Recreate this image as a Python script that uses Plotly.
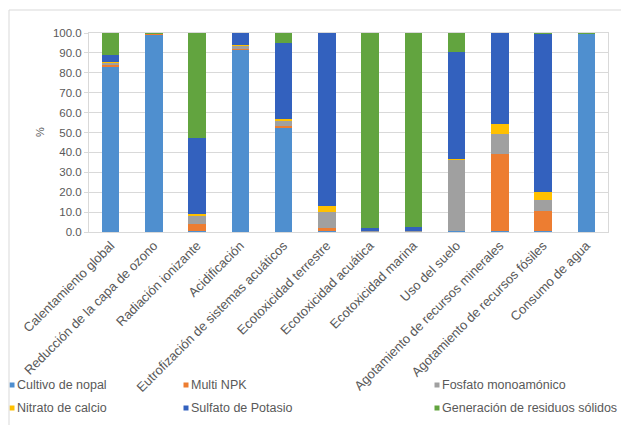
import plotly.graph_objects as go

categories = [
    "Calentamiento global",
    "Reducción de la capa de ozono",
    "Radiación ionizante",
    "Acidificación",
    "Eutrofización de sistemas acuáticos",
    "Ecotoxicidad terrestre",
    "Ecotoxicidad acuática",
    "Ecotoxicidad marina",
    "Uso del suelo",
    "Agotamiento de recursos minerales",
    "Agotamiento de recursos fósiles",
    "Consumo de agua",
]

cultivo_nopal = [83.0, 99.2, 0.5, 91.5, 52.5, 0.5, 0.3, 0.3, 0.5, 0.3, 0.5, 99.5]
multi_npk = [1.0, 0.3, 3.5, 0.5, 1.0, 1.5, 0.1, 0.1, 0.0, 39.0, 10.0, 0.0]
fosfato_monoamonico = [1.0, 0.2, 4.5, 1.5, 2.5, 8.0, 0.2, 0.2, 36.0, 10.0, 5.5, 0.0]
nitrato_calcio = [0.5, 0.1, 0.5, 0.3, 1.0, 3.0, 0.1, 0.1, 0.3, 5.0, 4.0, 0.0]
sulfato_potasio = [3.5, 0.1, 38.0, 6.2, 38.0, 87.0, 1.3, 1.8, 53.5, 45.7, 79.5, 0.2]
residuos_solidos = [11.0, 0.1, 53.0, 0.0, 5.0, 0.0, 98.0, 97.5, 9.7, 0.0, 0.5, 0.3]

series_names = [
    "Cultivo de nopal",
    "Multi NPK",
    "Fosfato monoamónico",
    "Nitrato de calcio",
    "Sulfato de Potasio",
    "Generación de residuos sólidos",
]
series_values = [
    cultivo_nopal,
    multi_npk,
    fosfato_monoamonico,
    nitrato_calcio,
    sulfato_potasio,
    residuos_solidos,
]
series_colors = ["#4f8fcf", "#ED7D31", "#A0A0A0", "#FFC000", "#3361be", "#62a43f"]

y_ticks = [0, 10, 20, 30, 40, 50, 60, 70, 80, 90, 100]

FONT = "Arial, 'Liberation Sans', sans-serif"
TEXT = "#595959"
GRID = "#d9d9d9"

W, H = 621, 425
L, R, T, B = 89, 13, 33, 193
PW, PH = W - L - R, H - T - B


def px_x(x):
    return (x - L) / PW


def px_y(y):
    return (H - B - y) / PH


fig = go.Figure()
for name, vals, color in zip(series_names, series_values, series_colors):
    fig.add_trace(go.Bar(
        name=name, x=categories, y=vals, marker_color=color,
        marker_line_width=0, showlegend=False,
    ))

# legend laid out in three columns, two rows
legend_col_x = [12, 186, 437]
legend_row_y = [385, 408]
shapes = []
annotations = []
for i, (name, color) in enumerate(zip(series_names, series_colors)):
    cx = legend_col_x[i % 3]
    cy = legend_row_y[i // 3]
    shapes.append(dict(
        type="rect", xref="paper", yref="paper",
        x0=px_x(cx - 2.5), x1=px_x(cx + 2.5),
        y0=px_y(cy + 2.5), y1=px_y(cy - 2.5),
        fillcolor=color, line_width=0,
    ))
    annotations.append(dict(
        xref="paper", yref="paper", x=px_x(cx + 3), y=px_y(cy),
        xanchor="left", yanchor="middle", text=name, showarrow=False,
        font=dict(family=FONT, size=12.5, color=TEXT),
    ))

# chart frame (top and left edges)
shapes.append(dict(type="line", xref="paper", yref="paper",
                   x0=px_x(9), x1=px_x(W + 5), y0=px_y(10), y1=px_y(10),
                   line=dict(color=GRID, width=1)))
shapes.append(dict(type="line", xref="paper", yref="paper",
                   x0=px_x(9), x1=px_x(9), y0=px_y(10), y1=px_y(H + 5),
                   line=dict(color=GRID, width=1)))

annotations.append(dict(
    xref="paper", yref="paper", x=px_x(40), y=px_y(132),
    xanchor="center", yanchor="middle",
    text="%", showarrow=False, textangle=-90,
    font=dict(family=FONT, size=11, color=TEXT),
))

fig.update_layout(
    width=W, height=H,
    margin=dict(l=L, r=R, t=T, b=B, autoexpand=False),
    paper_bgcolor="white", plot_bgcolor="white",
    barmode="stack", bargap=0.6,
    showlegend=False,
    shapes=shapes, annotations=annotations,
    font=dict(family=FONT, size=11, color=TEXT),
)
fig.update_xaxes(
    tickangle=-45, tickfont=dict(family=FONT, size=13, color=TEXT),
    showline=True, linecolor=GRID, linewidth=1, mirror=True,
    showgrid=False, automargin=False, ticks="",
)
fig.update_yaxes(
    range=[0, 100], tickvals=y_ticks, tickformat=".1f",
    tickfont=dict(family=FONT, size=11.5, color=TEXT),
    showgrid=True, gridcolor=GRID, gridwidth=1,
    showline=True, linecolor=GRID, linewidth=1, mirror=True,
    ticks="outside", ticklen=4, tickcolor=GRID,
    zeroline=False, automargin=False,
)

fig.write_html("out.html")
